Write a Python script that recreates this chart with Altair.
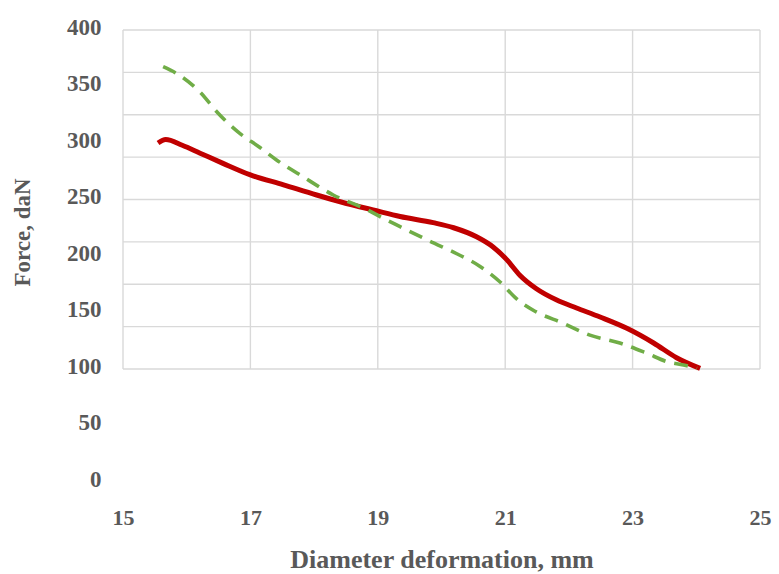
import altair as alt
import pandas as pd
import numpy as np

# Measured series (Diameter deformation, mm -> Force, daN)
red_x = [15.55, 15.67, 15.93, 16.21, 16.57, 16.99, 17.52, 18.04, 18.41, 18.98, 19.35, 19.87,
         20.19, 20.55, 20.81, 21.02, 21.23, 21.49, 21.81, 22.12, 22.49, 22.91, 23.33, 23.69, 24.06]
red_y = [300, 303, 298, 291, 282, 272, 263, 254, 248, 240, 235, 229.5,
         225, 217, 208, 197, 183, 171, 161, 154, 146, 136, 123, 110, 100.5]

green_x = [15.63, 15.84, 16.21, 16.49, 16.8, 17.15, 17.41, 17.83, 18.3, 18.83, 19.03, 19.35,
           19.82, 20.24, 20.6, 20.92, 21.18, 21.44, 21.91, 22.33, 22.8, 23.22, 23.54, 23.8, 24.01]
green_y = [367.5, 361.5, 345, 326.5, 310, 296, 285, 270, 254, 241, 235, 226,
           213, 202, 191, 177, 162, 152, 140.5, 130, 123, 114, 106.5, 103.5, 100.5]

x_ticks = [15, 17, 19, 21, 23, 25]
y_ticks = [0, 50, 100, 150, 200, 250, 300, 350, 400]
grid_bottom, grid_top, grid_count = 100, 400, 9

grid_y = list(np.linspace(grid_bottom, grid_top, grid_count))

FONT = "Liberation Serif"
TXT = "#595959"
GRID = "#D9D9D9"

xs = alt.Scale(domain=[15, 25], nice=False, zero=False)
ys = alt.Scale(domain=[0, 400], nice=False, zero=False)

x_axis = alt.Axis(values=x_ticks, grid=False, domain=False, ticks=False, labelFlush=False,
                  labelFont=FONT, labelFontSize=22, labelFontWeight="bold", labelColor=TXT,
                  labelPadding=25,
                  title="Diameter deformation, mm", titleFont=FONT, titleFontSize=26,
                  titleFontWeight="bold", titleColor=TXT, titleBaseline="alphabetic", titleY=85)
y_axis = alt.Axis(values=y_ticks, grid=False, domain=False, ticks=False, labelFlush=False,
                  labelFont=FONT, labelFontSize=23, labelFontWeight="bold", labelColor=TXT,
                  labelPadding=22, labelOffset=-3,
                  title="Force, daN", titleFont=FONT, titleFontSize=23,
                  titleFontWeight="bold", titleColor=TXT, titleBaseline="middle",
                  titleAngle=-90, titleX=-101, titleY=202, titleAlign="center")

vgrid_df = pd.DataFrame({"x": x_ticks, "y0": grid_bottom, "y1": grid_top})
hgrid_df = pd.DataFrame({"y": grid_y, "x0": x_ticks[0], "x1": x_ticks[-1]})
red_df = pd.DataFrame({"x": red_x, "y": red_y})
green_df = pd.DataFrame({"x": green_x, "y": green_y})

X = lambda f: alt.X(f, scale=xs, axis=x_axis)
Y = lambda f: alt.Y(f, scale=ys, axis=y_axis)

vgrid = alt.Chart(vgrid_df).mark_rule(color=GRID, strokeWidth=1.4).encode(
    x=X("x:Q"), y=Y("y0:Q"), y2="y1:Q",
)
hgrid = alt.Chart(hgrid_df).mark_rule(color=GRID, strokeWidth=1.4).encode(
    y=Y("y:Q"), x=X("x0:Q"), x2="x1:Q",
)
red = alt.Chart(red_df).mark_line(color="#C00000", strokeWidth=5, interpolate="monotone").encode(
    x=X("x:Q"), y=Y("y:Q"), order=alt.Order("x:Q"),
)
green = alt.Chart(green_df).mark_line(color="#70AD47", strokeWidth=3.6, strokeDash=[14, 9],
                                      interpolate="monotone").encode(
    x=X("x:Q"), y=Y("y:Q"), order=alt.Order("x:Q"),
)

chart = alt.layer(vgrid, hgrid, red, green).properties(
    width=637, height=452,
    autosize=alt.AutoSizeParams(type="none"),
    padding={"left": 123, "top": 30, "right": 19, "bottom": 92},
    background="white",
).configure_view(stroke=None)

chart.save("out.html", embed_options={"renderer": "svg", "actions": False})
